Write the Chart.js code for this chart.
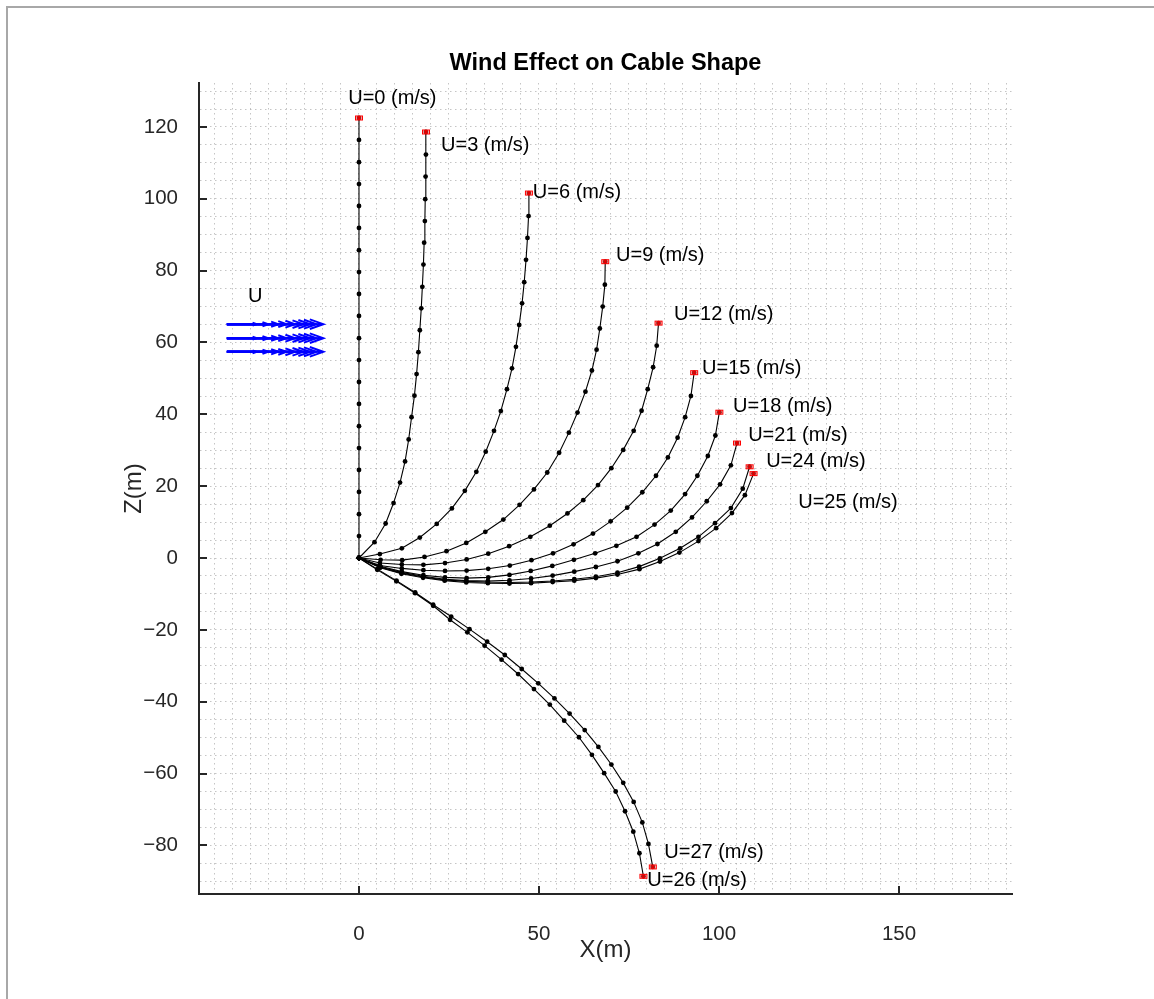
<!DOCTYPE html>
<html>
<head>
<meta charset="utf-8">
<title>Wind Effect on Cable Shape</title>
<script src="https://cdn.jsdelivr.net/npm/chart.js@4.4.1/dist/chart.umd.min.js"></script>
<style>
  html, body { margin: 0; padding: 0; background: #fff; }
  canvas { display: block; }
</style>
</head>
<body>
<canvas id="cableChart" width="1154" height="999"></canvas>
<script>
// wind speeds (m/s), one cable shape each
const windSpeeds = [0, 3, 6, 9, 12, 15, 18, 21, 24, 25, 26, 27];

// node coordinates (m), from the anchor at (0,0) to the free end
const x0  = [0, 0, 0, 0, 0, 0, 0, 0, 0, 0, 0, 0, 0, 0, 0, 0, 0, 0, 0, 0, 0];
const z0  = [0, 6.1, 12.2, 18.4, 24.5, 30.6, 36.7, 42.9, 49.0, 55.1, 61.2, 67.4, 73.5, 79.6, 85.7, 91.9, 98.0, 104.1, 110.2, 116.4, 122.5];
const x3  = [0, 4.3, 7.4, 9.6, 11.4, 12.8, 13.8, 14.6, 15.4, 16.0, 16.5, 16.9, 17.3, 17.6, 17.9, 18.1, 18.3, 18.4, 18.5, 18.6, 18.6];
const z3  = [0, 4.4, 9.6, 15.3, 21.0, 26.9, 33.0, 39.2, 45.2, 51.2, 57.3, 63.4, 69.5, 75.5, 81.7, 87.8, 93.8, 99.9, 106.2, 112.3, 118.6];
const x6  = [0, 5.8, 11.9, 16.9, 21.6, 25.8, 29.4, 32.6, 35.2, 37.5, 39.4, 41.1, 42.5, 43.6, 44.5, 45.3, 45.9, 46.4, 46.8, 47.1, 47.2];
const z6  = [0, 1.1, 2.7, 5.7, 9.5, 13.8, 18.7, 24.0, 29.6, 35.4, 40.9, 47.0, 52.8, 58.8, 64.9, 70.9, 76.8, 83.0, 89.1, 95.2, 101.6];
const x9  = [0, 6.0, 12.0, 18.2, 24.3, 29.8, 35.1, 40.1, 44.6, 48.6, 52.3, 55.6, 58.3, 60.7, 62.9, 64.7, 66.0, 66.9, 67.7, 68.3, 68.4];
const z9  = [0, -0.5, -0.6, 0.3, 1.9, 4.2, 7.3, 10.7, 14.8, 19.1, 23.8, 29.3, 34.9, 40.5, 46.3, 52.2, 58.0, 63.9, 70.0, 76.1, 82.5];
const x12 = [0, 5.8, 11.9, 17.9, 23.9, 29.9, 35.9, 41.7, 47.6, 53.0, 57.9, 62.3, 66.4, 70.1, 73.4, 76.3, 78.5, 80.2, 81.7, 82.7, 83.2];
const z12 = [0, -1.4, -1.8, -1.9, -1.4, -0.4, 1.2, 3.3, 5.9, 9.0, 12.4, 16.1, 20.3, 25.0, 30.1, 35.4, 41.0, 47.0, 53.1, 59.1, 65.4];
const x15 = [0, 5.8, 11.9, 17.9, 23.9, 29.9, 35.9, 41.9, 47.9, 53.9, 59.6, 65.0, 69.9, 74.5, 78.7, 82.5, 85.8, 88.5, 90.6, 92.2, 93.1];
const z15 = [0, -2.1, -2.9, -3.4, -3.6, -3.5, -3.0, -2.1, -0.6, 1.3, 3.8, 6.8, 10.2, 14.0, 18.3, 22.9, 28.0, 33.5, 39.2, 45.1, 51.6];
const x18 = [0, 5.9, 11.9, 17.9, 23.9, 29.9, 35.9, 41.8, 47.7, 53.7, 59.7, 65.6, 71.5, 77.1, 82.1, 86.6, 90.6, 94.0, 96.9, 99.0, 100.1];
const z18 = [0, -2.3, -3.8, -4.8, -5.4, -5.6, -5.4, -4.7, -3.6, -2.2, -0.5, 1.3, 3.4, 5.9, 9.3, 13.2, 17.8, 22.9, 28.4, 34.1, 40.6];
const x21 = [0, 5.9, 11.8, 17.8, 23.8, 29.8, 35.8, 41.8, 47.8, 53.8, 59.8, 65.8, 71.8, 77.6, 82.9, 88.0, 92.5, 96.6, 100.3, 103.3, 105.0];
const z21 = [0, -2.5, -4.0, -5.1, -5.9, -6.3, -6.4, -6.2, -5.7, -4.9, -3.8, -2.5, -0.9, 1.3, 3.9, 7.3, 11.3, 15.8, 20.5, 25.8, 32.0];
const x24 = [0, 5.9, 11.8, 17.8, 23.8, 29.8, 35.8, 41.8, 47.8, 53.8, 59.8, 65.8, 71.8, 77.8, 83.6, 89.2, 94.3, 98.9, 103.3, 106.6, 108.5];
const z24 = [0, -2.6, -4.2, -5.3, -6.1, -6.5, -6.7, -6.8, -6.7, -6.4, -5.9, -5.2, -4.1, -2.4, -0.1, 2.7, 5.9, 9.7, 13.9, 19.3, 25.4];
const x25 = [0, 5.9, 11.8, 17.8, 23.8, 29.8, 35.8, 41.8, 47.8, 53.8, 59.8, 65.8, 71.8, 77.9, 83.6, 89.0, 94.3, 99.2, 103.6, 107.2, 109.6];
const z25 = [0, -2.7, -4.4, -5.5, -6.3, -6.8, -7.0, -7.1, -7.0, -6.7, -6.3, -5.6, -4.6, -3.1, -1.0, 1.5, 4.7, 8.3, 12.5, 17.5, 23.5];
const x26 = [0, 5.1, 10.4, 15.6, 20.6, 25.3, 30.1, 34.9, 39.6, 44.2, 48.6, 53.0, 57.0, 61.1, 64.7, 68.1, 71.3, 73.9, 76.2, 77.9, 79.0];
const z26 = [0, -3.3, -6.5, -9.8, -13.3, -17.2, -20.7, -24.4, -28.3, -32.3, -36.5, -40.8, -45.3, -49.9, -54.8, -59.9, -65.0, -70.5, -76.2, -82.2, -88.6];
const x27 = [0, 5.1, 10.4, 15.6, 20.6, 25.6, 30.7, 35.6, 40.5, 45.2, 49.8, 54.3, 58.5, 62.7, 66.5, 70.1, 73.4, 76.3, 78.7, 80.4, 81.6];
const z27 = [0, -3.1, -6.3, -9.6, -13.0, -16.3, -19.8, -23.3, -27.0, -30.9, -34.9, -39.1, -43.3, -47.9, -52.6, -57.5, -62.6, -67.9, -73.6, -79.6, -86.0];

const cableX = [x0, x3, x6, x9, x12, x15, x18, x21, x24, x25, x26, x27];
const cableZ = [z0, z3, z6, z9, z12, z15, z18, z21, z24, z25, z26, z27];

// where each "U=.. (m/s)" text starts (left edge, vertical middle)
const labelX = [-3.0, 22.8, 48.3, 71.4, 87.5, 95.3, 103.9, 108.1, 113.1, 122.0, 80.1, 84.8];
const labelZ = [128.0, 114.8, 101.8, 84.1, 67.9, 52.7, 42.1, 34.0, 26.8, 15.4, -89.9, -81.9];

// wind indicator: three rows of arrows sharing a tail
const windRowZ = [65.1, 61.2, 57.4];
const windTailX = -36.7;
const windHeadX = [-28.4, -25.2, -22.4, -20.1, -17.8, -15.5, -13.6, -11.8, -9.9];
const windLabel = { x: -30.8, z: 72.9 };

// axes
const xMin = -44.44, xMax = 181.39;
const zMin = -93.54, zMax = 132.24;
const xMajor = [0, 50, 100, 150];
const zMajor = [-80, -60, -40, -20, 0, 20, 40, 60, 80, 100, 120];

const fontFamily = '"Liberation Sans", Arial, Helvetica, sans-serif';
const axisColor = '#262626';

// small red box used on the free end of every cable
const tipMarker = document.createElement('canvas');
tipMarker.width = 10;
tipMarker.height = 7;
(function () {
    const c = tipMarker.getContext('2d');
    c.fillStyle = 'rgba(255,120,120,0.45)';
    c.fillRect(1, 1, 8, 5);
    c.strokeStyle = '#ff0000';
    c.lineWidth = 1;
    c.strokeRect(1.5, 1.5, 7, 4);
    c.fillStyle = '#e00000';
    c.beginPath();
    c.arc(5, 3.5, 1.8, 0, Math.PI * 2);
    c.fill();
})();

const fmtTick = v => (v < 0 ? '\u2212' + Math.abs(v) : String(v));

const datasets = [];
const tips = [];
cableX.forEach((xs, i) => {
    const zs = cableZ[i];
    datasets.push({
        label: 'U=' + windSpeeds[i],
        data: xs.map((x, j) => ({ x: x, y: zs[j] })),
        showLine: true,
        borderColor: '#000',
        borderWidth: 1.1,
        pointRadius: 2.4,
        pointBackgroundColor: '#000',
        pointBorderWidth: 0,
        order: 1
    });
    tips.push({ x: xs[xs.length - 1], y: zs[zs.length - 1] });
});
datasets.push({
    label: 'ends',
    data: tips,
    showLine: false,
    pointStyle: tipMarker,
    pointRadius: 4,
    order: 0
});

const decor = {
    id: 'decor',
    beforeDraw(chart) {
        const ctx = chart.ctx;
        ctx.save();
        ctx.fillStyle = '#fff';
        ctx.fillRect(0, 0, chart.width, chart.height);
        // figure window edge
        ctx.strokeStyle = '#a8a8a8';
        ctx.lineWidth = 2;
        ctx.beginPath();
        ctx.moveTo(7, chart.height);
        ctx.lineTo(7, 7);
        ctx.lineTo(chart.width, 7);
        ctx.stroke();
        ctx.restore();
    },
    afterDatasetsDraw(chart) {
        const ctx = chart.ctx;
        const sx = chart.scales.x, sy = chart.scales.y;
        ctx.save();

        // wind arrows
        ctx.strokeStyle = '#0000ff';
        ctx.lineWidth = 2;
        const tail = sx.getPixelForValue(windTailX);
        windRowZ.forEach(z => {
            const py = sy.getPixelForValue(z);
            windHeadX.forEach(hx => {
                const tip = sx.getPixelForValue(hx);
                const len = tip - tail;
                const hl = len * 0.14, hw = len * 0.05;
                ctx.beginPath();
                ctx.moveTo(tail, py);
                ctx.lineTo(tip, py);
                ctx.moveTo(tip - hl, py - hw);
                ctx.lineTo(tip, py);
                ctx.lineTo(tip - hl, py + hw);
                ctx.stroke();
            });
        });

        ctx.fillStyle = '#000';
        ctx.font = '20px ' + fontFamily;
        ctx.textAlign = 'left';
        ctx.textBaseline = 'middle';
        ctx.fillText('U', sx.getPixelForValue(windLabel.x), sy.getPixelForValue(windLabel.z));

        // speed labels
        windSpeeds.forEach((u, i) => {
            ctx.fillText('U=' + u + ' (m/s)', sx.getPixelForValue(labelX[i]), sy.getPixelForValue(labelZ[i]));
        });
        ctx.restore();
    },
    afterDraw(chart) {
        // inward tick marks
        const ctx = chart.ctx;
        const a = chart.chartArea;
        const sx = chart.scales.x, sy = chart.scales.y;
        const tl = 8;
        ctx.save();
        ctx.strokeStyle = axisColor;
        ctx.lineWidth = 2;
        ctx.beginPath();
        xMajor.forEach(v => {
            const px = Math.round(sx.getPixelForValue(v));
            ctx.moveTo(px, a.bottom);
            ctx.lineTo(px, a.bottom - tl);
        });
        zMajor.forEach(v => {
            const py = Math.round(sy.getPixelForValue(v));
            ctx.moveTo(a.left, py);
            ctx.lineTo(a.left + tl, py);
        });
        ctx.stroke();
        ctx.restore();
    }
};

const gridStyle = {
    color: 'rgba(140,140,140,0.5)',
    lineWidth: 1,
    drawTicks: false
};

new Chart(document.getElementById('cableChart').getContext('2d'), {
    type: 'scatter',
    data: { datasets: datasets },
    options: {
        responsive: false,
        animation: false,
        layout: { padding: { left: 0, right: 142, top: 0, bottom: 0 } },
        plugins: {
            legend: { display: false },
            tooltip: { enabled: false },
            title: {
                display: true,
                text: 'Wind Effect on Cable Shape',
                fullSize: false,
                color: '#000',
                font: { family: fontFamily, size: 23.5, weight: 'bold' },
                padding: { top: 49.9, bottom: 4.9 }
            }
        },
        scales: {
            x: {
                type: 'linear',
                min: xMin,
                max: xMax,
                grid: gridStyle,
                border: { display: true, color: axisColor, width: 2, dash: [1.5, 3.5] },
                ticks: {
                    stepSize: 5,
                    maxTicksLimit: 200,
                    autoSkip: false,
                    includeBounds: false,
                    maxRotation: 0,
                    padding: 28,
                    color: axisColor,
                    font: { family: fontFamily, size: 20.5 },
                    callback: v => (xMajor.includes(v) ? fmtTick(v) : '')
                },
                title: {
                    display: true,
                    text: 'X(m)',
                    color: axisColor,
                    font: { family: fontFamily, size: 24 },
                    padding: { top: 0, bottom: 34.6 }
                },
                afterFit(scale) { scale.height = 105; }
            },
            y: {
                type: 'linear',
                min: zMin,
                max: zMax,
                grid: gridStyle,
                border: { display: true, color: axisColor, width: 2, dash: [1.5, 3.5] },
                ticks: {
                    stepSize: 5,
                    maxTicksLimit: 200,
                    autoSkip: false,
                    includeBounds: false,
                    padding: 21,
                    color: axisColor,
                    font: { family: fontFamily, size: 20.5 },
                    callback: v => (zMajor.includes(v) ? fmtTick(v) : '')
                },
                title: {
                    display: true,
                    text: 'Z(m)',
                    color: axisColor,
                    font: { family: fontFamily, size: 24 },
                    padding: { top: 120, bottom: 0 }
                },
                afterFit(scale) { scale.width = 199; }
            }
        }
    },
    plugins: [decor]
});
</script>
</body>
</html>
